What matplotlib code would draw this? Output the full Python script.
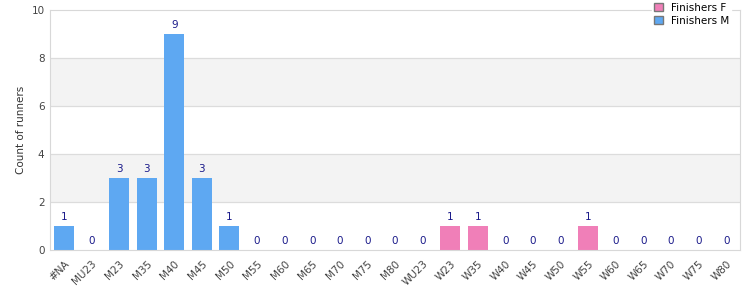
import matplotlib
matplotlib.use("Agg")
import matplotlib.pyplot as plt
from matplotlib.patches import Patch

plt.rcParams['font.family'] = ['DejaVu Sans']

# categories: M part first, then W part
m_cats = ['#NA', 'MU23', 'M23', 'M35', 'M40', 'M45', 'M50', 'M55', 'M60',
          'M65', 'M70', 'M75', 'M80']
m_counts = [1, 0, 3, 3, 9, 3, 1, 0, 0, 0, 0, 0, 0]
f_cats = ['WU23', 'W23', 'W35', 'W40', 'W45', 'W50', 'W55', 'W60', 'W65',
          'W70', 'W75', 'W80']
f_counts = [0, 1, 1, 0, 0, 0, 1, 0, 0, 0, 0, 0]

col_f = '#f07fb8'
col_m = '#5ea8f2'
lab_col = '#1a1a8a'

fig = plt.figure(figsize=(7.5, 3.0), dpi=100)
ax = fig.add_axes([0.0667, 0.1667, 0.92, 0.80])

cats = m_cats + f_cats
xm = list(range(len(m_cats)))
xf = list(range(len(m_cats), len(cats)))

# alternating bands
for lo in (2, 6):
    ax.axhspan(lo, lo + 2, color='#f3f3f3', zorder=0, lw=0)
for y in (2, 4, 6, 8):
    ax.axhline(y, color='#dcdcdc', lw=0.9, zorder=1)

ax.bar(xm, m_counts, width=0.72, color=col_m, zorder=2)
ax.bar(xf, f_counts, width=0.72, color=col_f, zorder=2)

for x, v in zip(xm + xf, m_counts + f_counts):
    ax.text(x, v + 0.18, str(v), ha='center', va='bottom', fontsize=7.5, color=lab_col)

ax.set_xlim(-0.5, len(cats) - 0.5)
ax.set_ylim(0, 10)
ax.set_yticks([0, 2, 4, 6, 8, 10])
ax.set_xticks(range(len(cats)))
ax.set_xticklabels(cats, rotation=45, ha='right', rotation_mode='anchor')
ax.tick_params(axis='both', length=0, labelsize=7.5, colors='#444444', pad=4)
ax.tick_params(axis='x', pad=6)
ax.set_ylabel('Count of runners', fontsize=7.5, color='#333333')

for s in ax.spines.values():
    s.set_color('#d8d8d8')

handles = [Patch(facecolor=col_f, edgecolor='#777777', label='Finishers F'),
           Patch(facecolor=col_m, edgecolor='#777777', label='Finishers M')]
leg = ax.legend(handles=handles, loc='upper right', bbox_to_anchor=(0.995, 1.06),
                fontsize=7.5, frameon=True, fancybox=False, framealpha=1,
                edgecolor='white', handlelength=0.8, handleheight=0.8,
                borderpad=0.2, labelspacing=0.3, handletextpad=0.8)
leg.set_zorder(5)

fig.savefig('out.png', dpi=100)
